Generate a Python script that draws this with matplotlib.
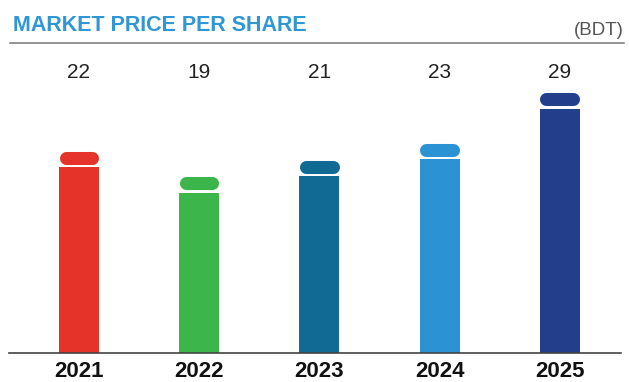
import matplotlib
matplotlib.use("Agg")
import matplotlib.pyplot as plt
from matplotlib.lines import Line2D
from matplotlib.transforms import offset_copy

years = ["2021", "2022", "2023", "2024", "2025"]
price = [22, 19, 21, 23, 29]
colors = ["#e5332a", "#3cb54a", "#106a94", "#2b93d4", "#233e8b"]

W, H = 629, 382
fig = plt.figure(figsize=(W / 100, H / 100), dpi=100)

# plot area runs from the baseline up to the rule under the title
px_per_unit = 8.42
ax = fig.add_axes([9 / W, 29.3 / H, 612 / W, 309.7 / H])
ax.set_xlim(-0.582, 4.51)
ax.set_ylim(0, 309.7 / px_per_unit)

x = list(range(len(years)))
ax.bar(x, price, width=0.333, color=colors, zorder=2)

# rounded cap sitting just above each bar
cap_tr = offset_copy(ax.transData, fig=fig, x=0, y=9.3, units="dots")
for i, v in enumerate(price):
    ax.plot([i - 0.11, i + 0.11], [v, v], color=colors[i], lw=9.4,
            solid_capstyle="round", transform=cap_tr, zorder=3)

for s in ["top", "left", "right"]:
    ax.spines[s].set_visible(False)
ax.spines["bottom"].set_color("#444444")
ax.spines["bottom"].set_linewidth(1.2)
ax.set_xticks([])
ax.set_yticks([])

for i, v in enumerate(price):
    ax.annotate(str(v), xy=(i, H - 78), xycoords=("data", "figure pixels"),
                ha="center", va="baseline", fontsize=15, color="#222222",
                family="Liberation Sans")
    ax.annotate(years[i], xy=(i, 5), xycoords=("data", "figure pixels"),
                ha="center", va="baseline", fontsize=16, color="#111111",
                family=["Liberation Sans Narrow", "Liberation Sans"],
                fontweight="bold")

fig.text(13 / W, 1 - 31 / H, "MARKET PRICE PER SHARE", ha="left", va="baseline",
         fontsize=15.5, fontweight="bold", color="#2f97d5", family="Liberation Sans")
fig.text(624 / W, 1 - 35 / H, "(BDT)", ha="right", va="baseline",
         fontsize=13.5, color="#555555", family="Liberation Sans")
fig.add_artist(Line2D([10 / W, 624 / W], [1 - 43 / H, 1 - 43 / H],
                      color="#777777", lw=1.1, transform=fig.transFigure))

fig.savefig("out.png", dpi=100)
